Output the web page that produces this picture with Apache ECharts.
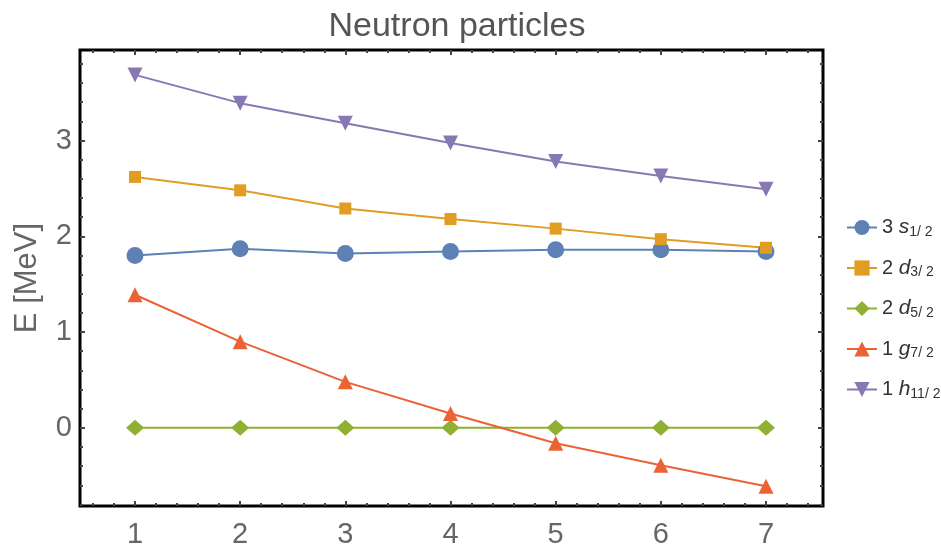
<!DOCTYPE html>
<html>
<head>
<meta charset="utf-8">
<script src="https://cdn.jsdelivr.net/npm/echarts@6/dist/echarts.min.js"></script>
<style>
  html, body { margin: 0; padding: 0; background: #fff; }
  #chart { width: 941px; height: 549px; }
</style>
</head>
<body>
<div id="chart"></div>
<script>
// Neutron single-particle energies (MeV) for orbitals, vs. index 1..7
const xValues = [1, 2, 3, 4, 5, 6, 7];
const s12  = [1.80, 1.87, 1.82, 1.84, 1.86, 1.86, 1.84];   // 3s1/2
const d32  = [2.62, 2.48, 2.29, 2.18, 2.08, 1.97, 1.88];   // 2d3/2
const d52  = [0.00, 0.00, 0.00, 0.00, 0.00, 0.00, 0.00];   // 2d5/2
const g72  = [1.39, 0.90, 0.48, 0.15, -0.16, -0.39, -0.61]; // 1g7/2
const h112 = [3.685, 3.39, 3.18, 2.975, 2.78, 2.63, 2.49]; // 1h11/2

const xTickLabels = [1, 2, 3, 4, 5, 6, 7];
const yTickLabels = [0, 1, 2, 3];
const xRange = [0.477, 7.542];
const yRange = [-0.816, 3.945];

// minor tick positions every 0.2 inside the plotted ranges
function minorTicks(lo, hi) {
  const out = [];
  for (let k = Math.ceil(lo * 5); k <= Math.floor(hi * 5); k++) {
    if (k % 5 !== 0) out.push(+(k / 5).toFixed(2));
  }
  return out;
}

const labelColor = '#666';
const tickColor = '#444';
const font = 'Liberation Sans, Arial, sans-serif';

function tickAxis(base, pos, values, len, showLabels) {
  return Object.assign({}, base, {
    type: 'value',
    position: pos,
    axisLine: { show: false, onZero: false },
    splitLine: { show: false },
    axisTick: { show: true, inside: true, length: len, customValues: values,
                lineStyle: { color: tickColor, width: 2 } },
    axisLabel: showLabels ? {
      show: true, customValues: values, color: labelColor, fontSize: 29,
      fontFamily: font, margin: pos === 'bottom' ? 14 : 8
    } : { show: false }
  });
}

const xBase = { min: xRange[0], max: xRange[1] };
const yBase = { min: yRange[0], max: yRange[1] };

const xMinor = minorTicks(xRange[0], xRange[1]);
const yMinor = minorTicks(yRange[0], yRange[1]);

function pairs(ys) { return xValues.map((x, i) => [x, ys[i]]); }

function sub(main, letter, subscript) {
  return '{n|' + main + ' }{i|' + letter + '}{s|' + subscript + '}';
}

const seriesDefs = [
  { name: sub('3', 's', '1/ 2'), data: s12, color: '#5E81B5', symbol: 'circle', size: 17, rot: 0 },
  { name: sub('2', 'd', '3/ 2'), data: d32, color: '#E19C24', symbol: 'rect', size: 12, rot: 0 },
  { name: sub('2', 'd', '5/ 2'), data: d52, color: '#8FB032', symbol: 'diamond', size: [18, 16], rot: 0 },
  { name: sub('1', 'g', '7/ 2'), data: g72, color: '#EB6235', symbol: 'triangle', size: 15, rot: 0 },
  { name: sub('1', 'h', '11/ 2'), data: h112, color: '#8778B3', symbol: 'triangle', size: 15, rot: 180 }
];

const chart = echarts.init(document.getElementById('chart'), null, { renderer: 'canvas' });

chart.setOption({
  animation: false,
  backgroundColor: '#fff',
  title: {
    text: 'Neutron particles',
    left: 452, textAlign: 'center', top: 5,
    textStyle: { color: '#555', fontSize: 34, fontWeight: 'normal', fontFamily: font }
  },
  grid: {
    left: 80, top: 50, right: 118, bottom: 41,
    show: true, borderColor: '#000', borderWidth: 3, backgroundColor: 'transparent'
  },
  legend: {
    orient: 'vertical',
    left: 841, top: 212,
    itemWidth: 30, itemHeight: 19, itemGap: 18.5,
    data: seriesDefs.map(d => d.name),
    textStyle: {
      color: '#333', fontFamily: font, fontSize: 20,
      rich: {
        n: { fontSize: 20, color: '#333', fontFamily: font },
        i: { fontSize: 21, color: '#333', fontStyle: 'italic', fontFamily: font },
        s: { fontSize: 14, color: '#333', fontFamily: font, verticalAlign: 'bottom', padding: [9, 0, 0, 0] }
      }
    }
  },
  xAxis: [
    tickAxis(xBase, 'bottom', xTickLabels, 5, true),
    tickAxis(xBase, 'bottom', xMinor, 3, false),
    tickAxis(xBase, 'top', xTickLabels, 5, false),
    tickAxis(xBase, 'top', xMinor, 3, false)
  ],
  yAxis: [
    Object.assign(tickAxis(yBase, 'left', yTickLabels, 5, true), {
      name: 'E [MeV]', nameLocation: 'middle', nameGap: 37,
      nameTextStyle: { color: labelColor, fontSize: 31, fontFamily: font }
    }),
    tickAxis(yBase, 'left', yMinor, 3, false),
    tickAxis(yBase, 'right', yTickLabels, 5, false),
    tickAxis(yBase, 'right', yMinor, 3, false)
  ],
  series: seriesDefs.map(d => ({
    name: d.name,
    type: 'line',
    xAxisIndex: 0, yAxisIndex: 0,
    data: pairs(d.data),
    symbol: d.symbol,
    symbolSize: d.size,
    symbolRotate: d.rot,
    color: d.color,
    lineStyle: { color: d.color, width: 2 },
    itemStyle: { color: d.color },
    emphasis: { disabled: true }
  }))
});
</script>
</body>
</html>
